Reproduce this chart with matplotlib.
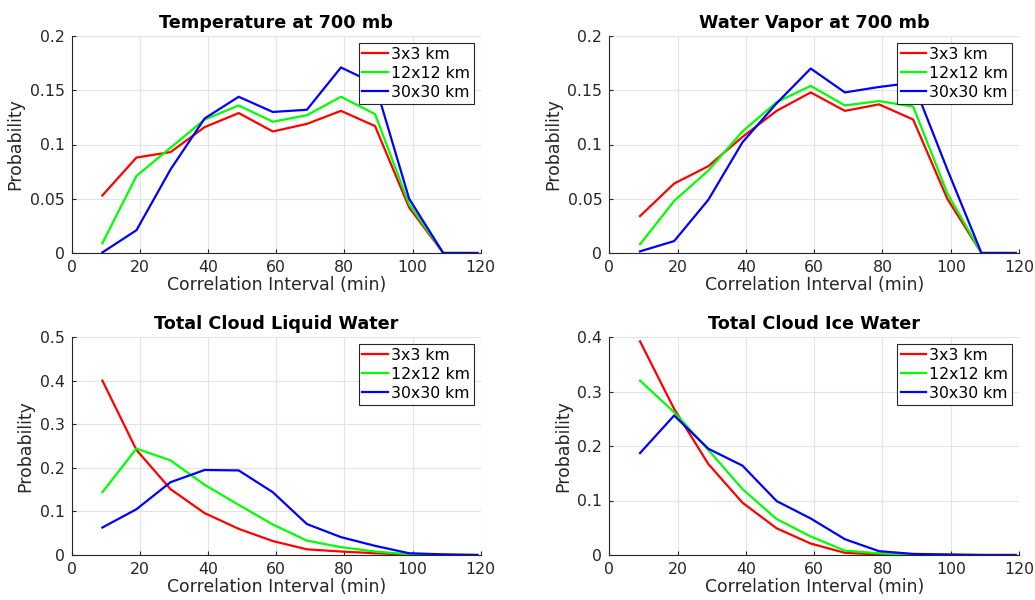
"""
plot.py - correlation interval probability, four panels
"""
import matplotlib
matplotlib.use("Agg")
import matplotlib.pyplot as plt

x = [9, 19, 29, 39, 49, 59, 69, 79, 89, 99, 109, 119]
labels = ["3x3 km", "12x12 km", "30x30 km"]
colors = ["#ff0000", "#00ff00", "#0000ff"]

titles = ["Temperature at 700 mb", "Water Vapor at 700 mb",
          "Total Cloud Liquid Water", "Total Cloud Ice Water"]

temp_3 = [0.053, 0.088, 0.093, 0.116, 0.129, 0.112, 0.119, 0.131, 0.117, 0.042, 0, 0]
temp_12 = [0.009, 0.071, 0.097, 0.123, 0.136, 0.121, 0.127, 0.144, 0.128, 0.045, 0, 0]
temp_30 = [0.0005, 0.021, 0.077, 0.124, 0.144, 0.130, 0.132, 0.171, 0.156, 0.050, 0, 0]

wv_3 = [0.034, 0.064, 0.080, 0.107, 0.131, 0.148, 0.131, 0.137, 0.123, 0.050, 0, 0]
wv_12 = [0.008, 0.048, 0.076, 0.112, 0.139, 0.154, 0.136, 0.140, 0.135, 0.055, 0, 0]
wv_30 = [0.0015, 0.011, 0.049, 0.102, 0.138, 0.170, 0.148, 0.153, 0.157, 0.077, 0, 0]

liq_3 = [0.400, 0.241, 0.151, 0.096, 0.060, 0.032, 0.013, 0.008, 0.004, 0.001, 0, 0]
liq_12 = [0.144, 0.244, 0.217, 0.161, 0.115, 0.070, 0.033, 0.018, 0.008, 0.0015, 0, 0]
liq_30 = [0.063, 0.105, 0.167, 0.195, 0.194, 0.144, 0.071, 0.041, 0.021, 0.004, 0.0015, 0]

ice_3 = [0.392, 0.268, 0.167, 0.096, 0.049, 0.021, 0.004, 0.001, 0, 0, 0, 0]
ice_12 = [0.320, 0.262, 0.193, 0.121, 0.066, 0.034, 0.008, 0.003, 0.0006, 0, 0, 0]
ice_30 = [0.187, 0.256, 0.195, 0.164, 0.099, 0.067, 0.029, 0.007, 0.002, 0.001, 0, 0]

panels = [
    (titles[0], [temp_3, temp_12, temp_30], 0.2, [0, 0.05, 0.1, 0.15, 0.2]),
    (titles[1], [wv_3, wv_12, wv_30], 0.2, [0, 0.05, 0.1, 0.15, 0.2]),
    (titles[2], [liq_3, liq_12, liq_30], 0.5, [0, 0.1, 0.2, 0.3, 0.4, 0.5]),
    (titles[3], [ice_3, ice_12, ice_30], 0.4, [0, 0.1, 0.2, 0.3, 0.4]),
]

plt.rcParams['font.family'] = ['DejaVu Sans']
fig = plt.figure(figsize=(10.35, 6), dpi=100)

W, H = 1035, 600
boxes = [(71.7, 36, 480.7, 253), (609.3, 36, 1019, 253),
         (71.7, 337, 480.7, 555), (609.3, 337, 1019, 555)]
dark = "#262626"

for (title, series, ymax, yticks), (l, t, r, b) in zip(panels, boxes):
    ax = fig.add_axes([l / W, 1 - b / H, (r - l) / W, (b - t) / H])
    for vals, lab, c in zip(series, labels, colors):
        ax.plot(x, vals, color=c, lw=1.6, label=lab)
    ax.set_xlim(0, 120)
    ax.set_ylim(0, ymax)
    ax.set_xticks(range(0, 121, 20))
    ax.set_yticks(yticks)
    ax.set_yticklabels([("%g" % v) for v in yticks])
    ax.grid(True, color="#e3e3e3", lw=0.8)
    ax.set_axisbelow(True)
    ax.spines['top'].set_visible(False)
    ax.spines['right'].set_visible(False)
    for s in ('left', 'bottom'):
        ax.spines[s].set_color(dark)
        ax.spines[s].set_linewidth(0.8)
    ax.tick_params(direction='in', length=3, colors=dark, labelsize=11.3,
                   labelcolor=dark, pad=5)
    ax.set_title(title, fontsize=12.7, fontweight='bold', pad=6)
    ax.set_xlabel("Correlation Interval (min)", fontsize=12.4, color=dark, labelpad=1)
    ax.set_ylabel("Probability", fontsize=12.4, color=dark, labelpad=4)
    leg = ax.legend(loc='upper right', fontsize=11.3, frameon=True, fancybox=False,
                    borderaxespad=0.45, handlelength=1.6, handletextpad=0.2,
                    borderpad=0.25, labelspacing=0.25)
    leg.get_frame().set_edgecolor(dark)
    leg.get_frame().set_linewidth(0.8)
    leg.get_frame().set_alpha(1)

fig.savefig("out.png", dpi=100)
